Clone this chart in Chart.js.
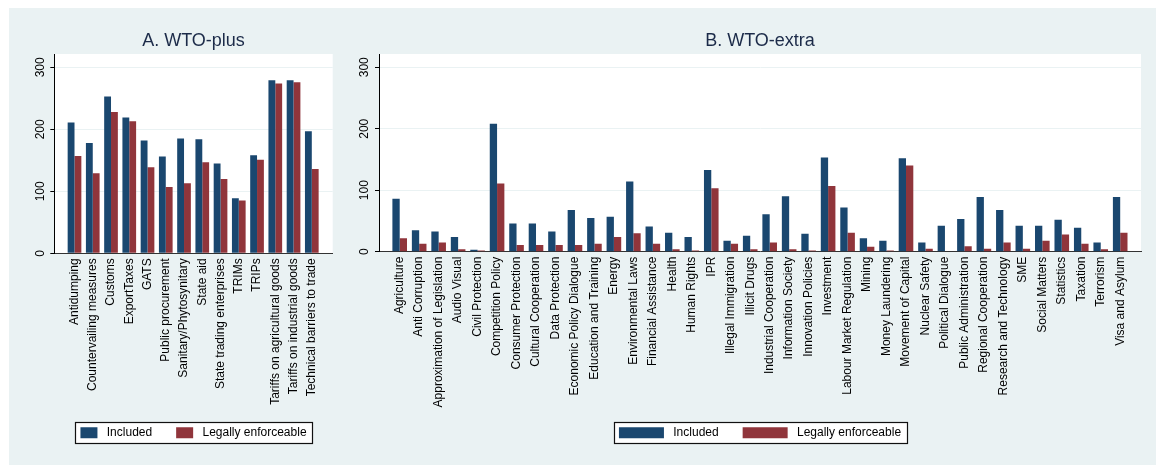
<!DOCTYPE html>
<html>
<head>
<meta charset="utf-8">
<script src="https://cdn.jsdelivr.net/npm/chart.js@4.4.1/dist/chart.umd.min.js"></script>
<style>
html, body { margin: 0; padding: 0; background: #fff; }
#bg { position: absolute; left: 9px; top: 8px; width: 1147px; height: 457px; background: #eaf2f3; }
canvas { position: absolute; top: 8px; }
#plus { left: 9px; }
#extra { left: 345px; }
</style>
</head>
<body>
<div id="bg"></div>
<canvas id="plus" width="336" height="457"></canvas>
<canvas id="extra" width="811" height="457"></canvas>
<script>
// A. WTO-plus areas
const plusCats = ["Antidumping", "Countervailing measures", "Customs", "ExportTaxes", "GATS",
  "Public procurement", "Sanitary/Phytosynitary", "State aid", "State trading enterprises",
  "TRIMs", "TRIPs", "Tariffs on agricultural goods", "Tariffs on industrial goods",
  "Technical barriers to trade"];
const plusIncluded = [211, 178, 253, 219, 182, 156, 185, 184, 145, 89, 158, 279, 279, 197];
const plusEnforceable = [157, 129, 228, 213, 139, 107, 113, 147, 120, 85, 151, 274, 276, 136];

// B. WTO-extra areas
const extraCats = ["Agriculture", "Anti Corruption", "Approximation of Legislation", "Audio Visual",
  "Civil Protection", "Competition Policy", "Consumer Protection", "Cultural Cooperation",
  "Data Protection", "Economic Policy Dialogue", "Education and Training", "Energy",
  "Environmental Laws", "Financial Assistance", "Health", "Human Rights", "IPR",
  "Illegal Immigration", "Illicit Drugs", "Industrial Cooperation", "Information Society",
  "Innovation Policies", "Investment", "Labour Market Regulation", "Mining", "Money Laundering",
  "Movement of Capital", "Nuclear Safety", "Political Dialogue", "Public Administration",
  "Regional Cooperation", "Research and Technology", "SME", "Social Matters", "Statistics",
  "Taxation", "Terrorism", "Visa and Asylum"];
const extraIncluded = [86, 35, 33, 24, 3, 208, 46, 46, 33, 68, 55, 57, 114, 41, 31, 24, 133,
  18, 26, 61, 90, 29, 153, 72, 22, 18, 152, 15, 42, 53, 89, 68, 42, 42, 52, 39, 15, 89];
const extraEnforceable = [22, 13, 15, 4, 2, 111, 11, 11, 11, 11, 13, 24, 30, 13, 4, 2, 103,
  13, 4, 15, 4, 2, 107, 31, 8, 2, 140, 5, 0, 9, 5, 15, 5, 18, 28, 13, 4, 31];

const seriesNames = ["Included", "Legally enforceable"];
const navy = "#1a476f";
const maroon = "#90353b";

Chart.defaults.font.family = '"Liberation Sans", Arial, sans-serif';

// white plot region + boxed legend, like Stata
const stataFrame = {
  id: "stataFrame",
  afterLayout(chart) {
    // long category labels run past the axis box, don't clip them
    chart.scales.x._computeLabelArea = () => null;
  },
  beforeDraw(chart) {
    const { ctx, chartArea: a } = chart;
    ctx.save();
    ctx.fillStyle = "#fff";
    ctx.fillRect(a.left, a.top, a.right - a.left, a.bottom - a.top);
    const hb = chart.legend && chart.legend.legendHitBoxes;
    if (hb && hb.length) {
      const first = hb[0], last = hb[hb.length - 1];
      const x0 = Math.round(first.left - 5) + 0.5;
      const x1 = Math.round(last.left + last.width + 5.5) + 0.5;
      const y0 = Math.round(first.top - 5) + 0.5;
      const y1 = Math.round(first.top + first.height + 4.6) + 0.5;
      ctx.fillRect(x0, y0, x1 - x0, y1 - y0);
      ctx.strokeStyle = "#111";
      ctx.lineWidth = 1.2;
      ctx.strokeRect(x0, y0, x1 - x0, y1 - y0);
    }
    ctx.restore();
  }
};

function makeChart(id, title, cats, inc, enf, cfg) {
  const toPoints = arr => arr.map((v, i) => ({ x: i, y: v }));
  return new Chart(document.getElementById(id), {
    type: "bar",
    data: {
      datasets: [
        { label: seriesNames[0], data: toPoints(inc), backgroundColor: navy, borderWidth: 0,
          categoryPercentage: 0.75, barPercentage: 1 },
        { label: seriesNames[1], data: toPoints(enf), backgroundColor: maroon, borderWidth: 0,
          categoryPercentage: 0.75, barPercentage: 1 }
      ]
    },
    options: {
      responsive: false,
      animation: false,
      devicePixelRatio: 1,
      events: [],
      layout: { padding: { top: 0, right: cfg.padRight, bottom: 16.3, left: 0 } },
      scales: {
        x: {
          type: "linear",
          offset: false,
          min: cfg.xMin,
          max: cfg.xMax,
          grid: { display: false, drawTicks: false, offset: false },
          border: { color: "#333", width: 1 },
          ticks: {
            stepSize: 1, autoSkip: false, includeBounds: false,
            minRotation: 90, maxRotation: 90, padding: 5,
            color: "#000", font: { size: 12 },
            callback: v => cats[v] ?? ""
          },
          afterFit: s => {
            s.height = cfg.xHeight;
            s.paddingLeft = 0;
            s.paddingRight = 0;
          }
        },
        y: {
          min: 0,
          max: 321.5,
          grid: { color: "#eaf2f3", tickColor: "#000", tickLength: 4 },
          border: { color: "#000", width: 1 },
          ticks: {
            stepSize: 100, includeBounds: false,
            minRotation: 90, maxRotation: 90, crossAlign: "center", padding: 0,
            color: "#000", font: { size: 12 }
          },
          afterFit: s => { s.width = cfg.yWidth; }
        }
      },
      plugins: {
        title: {
          display: true, text: title, fullSize: false,
          color: "#1c2b49", font: { size: 18, weight: "normal" },
          padding: { top: 22.5, bottom: 1.9 }
        },
        legend: {
          position: "bottom", fullSize: false,
          labels: {
            boxWidth: cfg.keyWidth, boxHeight: 11, padding: 24,
            color: "#000", font: { size: 12 },
            generateLabels: chart => Chart.defaults.plugins.legend.labels.generateLabels(chart)
              .map(l => Object.assign(l, { text: " " + l.text }))
          }
        },
        tooltip: { enabled: false }
      }
    },
    plugins: [stataFrame]
  });
}

makeChart("plus", "A. WTO-plus", plusCats, plusIncluded, plusEnforceable,
  { xMin: -1.107, xMax: 14.145, yWidth: 45.3, padRight: 12.3, xHeight: 149.4, keyWidth: 17 });
makeChart("extra", "B. WTO-extra", extraCats, extraIncluded, extraEnforceable,
  { xMin: -1.063, xMax: 38.068, yWidth: 34, padRight: 15, xHeight: 151, keyWidth: 45 });
</script>
</body>
</html>
